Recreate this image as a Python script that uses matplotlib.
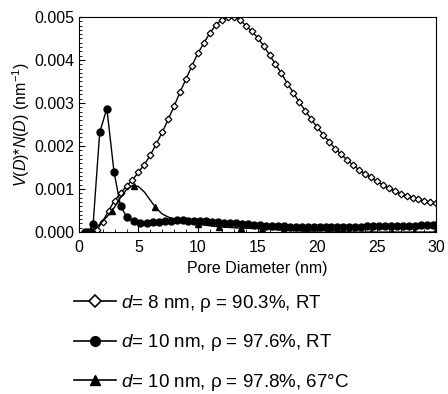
import numpy as np
import matplotlib.pyplot as plt
from matplotlib.ticker import MultipleLocator

# d = 8 nm, rho = 90.3%, RT  (open markers)
d8_x = np.arange(1.0, 30.01, 0.5)
d8_y = [0.0, 0.00005, 0.00024, 0.0005, 0.00073, 0.0009, 0.00107, 0.00121,
        0.00139, 0.00157, 0.00179, 0.00205, 0.00232, 0.00262, 0.00293, 0.00326,
        0.00356, 0.00387, 0.00416, 0.0044, 0.00463, 0.00481, 0.00493, 0.00499,
        0.005, 0.00494, 0.0048, 0.00467, 0.00452, 0.00433, 0.00412, 0.0039,
        0.00369, 0.00345, 0.00324, 0.00302, 0.00282, 0.00262, 0.00244, 0.00226,
        0.0021, 0.00194, 0.00181, 0.00168, 0.00156, 0.00145, 0.00136, 0.00127,
        0.00118, 0.0011, 0.00102, 0.00095, 0.00089, 0.00084, 0.0008, 0.00076,
        0.00072, 0.00069, 0.00067]

# d = 10 nm, rho = 97.6%, RT  (filled circles)
d10_x = [0.5, 0.8, 1.2, 1.75, 2.35, 2.95, 3.5, 4.05, 4.6, 5.15, 5.7, 6.2, 6.7,
         7.2, 7.7, 8.2, 8.7, 9.2, 9.7, 10.2, 10.7, 11.2, 11.7, 12.2, 12.7, 13.2,
         13.7, 14.2, 14.7, 15.2, 15.7, 16.2, 16.7, 17.2, 17.7, 18.2, 18.7, 19.2,
         19.7, 20.2, 20.7, 21.2, 21.7, 22.2, 22.7, 23.2, 23.7, 24.2, 24.7, 25.2,
         25.7, 26.2, 26.7, 27.2, 27.7, 28.2, 28.7, 29.2, 29.7, 30.0]
d10_y = [0.0, 0.0, 0.00019, 0.00232, 0.00287, 0.0014, 0.0006, 0.00034, 0.00025,
         0.00022, 0.00022, 0.00023, 0.00024, 0.00025, 0.00026, 0.00027, 0.00027,
         0.00026, 0.00026, 0.00025, 0.00025, 0.00024, 0.00023, 0.00022, 0.00021,
         0.0002, 0.00019, 0.00018, 0.00017, 0.00016, 0.00015, 0.00014, 0.00013,
         0.00013, 0.00012, 0.00012, 0.00011, 0.00011, 0.00011, 0.00011, 0.00011,
         0.00011, 0.00011, 0.00012, 0.00012, 0.00012, 0.00012, 0.00013, 0.00013,
         0.00013, 0.00014, 0.00014, 0.00014, 0.00015, 0.00015, 0.00015, 0.00016,
         0.00016, 0.00016, 0.00016]

# d = 10 nm, rho = 97.8%, 67C  (triangles): smooth curve + marker points
t_curve_x = [0.6, 1.0, 1.5, 2.0, 2.5, 3.0, 3.5, 4.0, 4.5, 5.0, 5.5, 6.0, 6.5,
             7.0, 7.5, 8.0, 8.5, 9.0, 10.0, 11.8, 13.6, 15.4, 17.2, 19.1, 20.9,
             22.7, 24.5, 26.3, 28.1, 29.9]
t_curve_y = [0.0, 0.00002, 0.00012, 0.00025, 0.0004, 0.00058, 0.0008, 0.00099,
             0.00108, 0.00106, 0.00093, 0.00074, 0.00055, 0.00042, 0.00035,
             0.0003, 0.00027, 0.00024, 0.00018, 0.00012, 0.00009, 0.00008,
             0.00004, 0.00002, 0.00003, 0.0, 0.0, 0.0, 0.0, 0.0]
t_x = [0.6, 1.0, 2.8, 4.6, 6.4, 10.0, 11.8, 13.6, 15.4, 17.2, 19.1, 20.9,
       22.7, 24.5, 26.3, 28.1, 29.9]
t_y = [0.0, 0.00003, 0.0005, 0.00108, 0.00058, 0.00018, 0.00012, 0.00009,
       0.00008, 0.00004, 0.00002, 0.00003, 0.0, 0.0, 0.0, 0.0, 0.0]

plt.rcParams['font.family'] = ['Liberation Sans', 'DejaVu Sans']
plt.rcParams['mathtext.fontset'] = 'custom'
plt.rcParams['mathtext.it'] = 'Liberation Sans:italic'
plt.rcParams['mathtext.rm'] = 'Liberation Sans'

fig = plt.figure(figsize=(4.48, 3.94), dpi=100)
ax = fig.add_axes([0.176, 0.411, 0.798, 0.546])

ax.plot(d8_x, d8_y, color='black', lw=1.0, marker='D', ms=3.4,
        mfc='white', mec='black', mew=0.9)
ax.plot(d10_x, d10_y, color='black', lw=1.0, marker='o', ms=5,
        mfc='black', mec='black')
ax.plot(t_curve_x, t_curve_y, color='black', lw=1.0)
ax.plot(t_x, t_y, ls='none', marker='^', ms=5, color='black')

ax.set_xlim(0, 30)
ax.set_ylim(0, 0.005)
ax.xaxis.set_major_locator(MultipleLocator(5))
ax.xaxis.set_minor_locator(MultipleLocator(1))
ax.yaxis.set_major_locator(MultipleLocator(0.001))
ax.yaxis.set_minor_locator(MultipleLocator(0.0001))
ax.yaxis.set_major_formatter(plt.FormatStrFormatter('%.3f'))
ax.tick_params(which='both', direction='in', labelsize=11.5)
ax.tick_params(which='major', length=4)
ax.tick_params(which='minor', length=2)
ax.tick_params(axis='x', pad=6)
ax.tick_params(axis='y', pad=3)
ax.set_xlabel('Pore Diameter (nm)', fontsize=11.5)
ax.set_ylabel(r'$V$($D$)*$N$($D$) (nm$^{-1}$)', fontsize=11.5, labelpad=2)

# legend below the plot
labels = [r'$d$= 8 nm, ρ = 90.3%, RT',
          r'$d$= 10 nm, ρ = 97.6%, RT',
          r'$d$= 10 nm, ρ = 97.8%, 67°C']
h1, = ax.plot([], [], color='black', lw=1.2, marker='D', ms=6,
              mfc='white', mec='black', mew=1.2)
h2, = ax.plot([], [], color='black', lw=1.2, marker='o', ms=7, mfc='black')
h3, = ax.plot([], [], color='black', lw=1.2, marker='^', ms=7, mfc='black')
fig.legend([h1, h2, h3], labels, loc='upper left', bbox_to_anchor=(0.145, 0.28),
           frameon=False, fontsize=13.5, handlelength=2.2, handletextpad=0.3,
           labelspacing=0.98, borderpad=0)

plt.savefig('out.png', dpi=100)
